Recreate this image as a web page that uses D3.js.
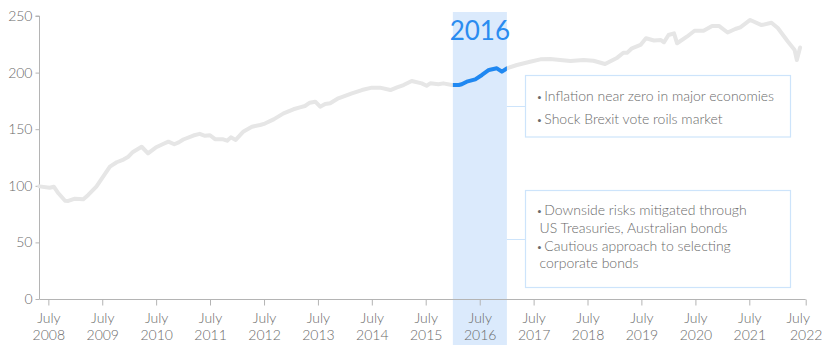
<!DOCTYPE html>
<html>
<head>
<meta charset="utf-8">
<script src="https://cdn.jsdelivr.net/npm/d3@7"></script>
<style>
  html, body { margin: 0; padding: 0; background: #fff; }
  svg { display: block; font-family: Lato, "Source Sans Pro", "Open Sans", sans-serif; font-weight: 300; }
</style>
</head>
<body>
<svg id="chart" width="832" height="360"></svg>
<script>
// ---------- DATA ----------
const dates = [
  "2008-05-01","2008-07-10","2008-08-07","2008-09-07","2008-10-22","2008-11-13","2008-12-28",
  "2009-02-23","2009-03-28","2009-05-22","2009-07-07","2009-08-22","2009-10-07","2009-11-22","2009-12-25",
  "2010-01-25","2010-03-25","2010-05-07","2010-06-28","2010-08-10","2010-09-22","2010-11-01","2010-12-01",
  "2011-01-01","2011-03-10","2011-04-22","2011-05-28","2011-07-01","2011-08-04","2011-09-28","2011-10-25","2011-11-19","2011-12-22",
  "2012-02-13","2012-04-10","2012-06-04","2012-07-07","2012-09-04","2012-11-10",
  "2013-01-16","2013-03-01","2013-04-04","2013-05-07","2013-06-13","2013-07-16","2013-08-19","2013-09-22","2013-11-16",
  "2014-02-16","2014-04-25","2014-07-01","2014-08-25","2014-11-04","2014-12-19",
  "2015-02-01","2015-03-28","2015-06-04","2015-07-07","2015-08-01","2015-09-25","2015-10-28","2015-12-25",
  "2016-02-10","2016-03-01","2016-04-04","2016-06-01","2016-07-16","2016-09-01","2016-10-25","2016-11-28",
  "2017-01-01","2017-03-10","2017-06-07","2017-08-16","2017-10-22","2017-12-28",
  "2018-03-07","2018-06-04","2018-08-10","2018-10-28",
  "2019-01-19","2019-03-01","2019-03-28","2019-04-28","2019-06-25","2019-08-01","2019-09-25","2019-11-10","2019-12-01",
  "2020-01-01","2020-02-07","2020-02-28","2020-05-04","2020-06-25","2020-08-25","2020-10-22","2020-12-07",
  "2021-02-04","2021-03-28","2021-05-01","2021-07-07","2021-09-22","2021-11-28",
  "2022-01-10","2022-03-19","2022-05-04","2022-05-19","2022-06-10"
];
const values = [
  99.5, 98.3, 99.2, 93.4, 86.8, 86.6, 88.6,
  88.1, 91.9, 99.2, 108, 116.9, 120.8, 123.2, 125.7,
  129.9, 134.5, 128.7, 133.8, 136.5, 139, 136.7, 138.4,
  140.9, 144.4, 145.9, 144.2, 144.7, 141.2, 141.1, 139.8, 142.8, 140.5,
  148, 152.2, 153.7, 155, 158.7, 164,
  167.6, 169.3, 170.5, 173.4, 174.3, 169.9, 172.3, 172.9, 177.3,
  181.7, 184.6, 186.7, 186.7, 184.6, 187,
  189, 192.6, 190.5, 188.4, 190.5, 189.7, 190.5, 189,
  189, 189.7, 192, 194, 197.9, 202.3, 203.8, 200.8,
  203.8, 206.7, 209.6, 211.7, 212, 211.1,
  210.2, 211.1, 210.5, 207.6,
  213.2, 217.6, 217.6, 221.5, 224.4, 230.3, 228.4, 228.8, 226.8,
  233.2, 234.7, 225.9, 231.7, 237, 237, 241.2, 241.2,
  235.4, 238.5, 240, 246.5, 242, 244,
  239.4, 227.5, 220, 211.1, 222.2
];
const yTicks = [0, 50, 100, 150, 200, 250];
const tickYears = [2008,2009,2010,2011,2012,2013,2014,2015,2016,2017,2018,2019,2020,2021,2022];
const tickMonthLabel = "July";
const highlightYear = 2016;
const notesTop = ["Inflation near zero in major economies", "Shock Brexit vote roils market"];
const notesBottom = [
  ["Downside risks mitigated through", "US Treasuries, Australian bonds"],
  ["Cautious approach to selecting", "corporate bonds"]
];

// ---------- LAYOUT ----------
const parse = d3.timeParse("%Y-%m-%d");
const data = dates.map((d, i) => ({ date: parse(d), value: values[i] }));

const svg = d3.select("#chart");
const x = d3.scaleTime()
  .domain([parse("2008-05-02"), parse("2022-07-18")])
  .range([39.5, 805.7]);
const y = d3.scaleLinear().domain([0, 250]).range([299, 16]);

const textColor = "#6a6a6a";
const axisColor = "#b4b4b4";

// highlight band
const hx0 = x(new Date(highlightYear, 0, 1));
const hx1 = x(new Date(highlightYear + 1, 0, 1));
svg.append("rect")
  .attr("x", hx0).attr("y", 12)
  .attr("width", hx1 - hx0).attr("height", 333)
  .attr("fill", "#dbeafc");
svg.append("text")
  .attr("x", (hx0 + hx1) / 2).attr("y", 39.5)
  .attr("text-anchor", "middle")
  .attr("font-size", 26)
  .attr("font-weight", 400)
  .attr("fill", "#2a8cf0")
  .text(highlightYear);

// axes
const yAxis = svg.append("g").attr("transform", "translate(39.5,0)")
  .call(d3.axisLeft(y).tickValues(yTicks).tickSize(4).tickPadding(3));
const lastTick = x.domain()[1];
const xTickDates = tickYears.map(yr => yr === tickYears[tickYears.length - 1] ? lastTick : new Date(yr, 6, 1));
const xAxis = svg.append("g").attr("transform", "translate(0,299.5)")
  .call(d3.axisBottom(x).tickValues(xTickDates).tickSize(6).tickFormat(() => ""));

[yAxis, xAxis].forEach(g => {
  g.attr("font-family", null).attr("font-size", null);
  g.select(".domain").attr("stroke", axisColor).attr("d", null);
  g.selectAll(".tick line").attr("stroke", axisColor);
  g.selectAll("text").attr("fill", textColor).attr("font-size", 14);
});
yAxis.select(".domain").attr("d", `M-4,${y(250)}H0V${y(0)}`);
xAxis.select(".domain").attr("d", `M${x.range()[0]},0H${x.range()[1]}`);

xAxis.selectAll(".tick").each(function(d, i) {
  const t = d3.select(this).append("text")
    .attr("fill", textColor).attr("font-size", 14)
    .attr("text-anchor", "middle")
    .attr("dx", i === tickYears.length - 1 ? -8 : 0);
  t.append("tspan").attr("x", 0).attr("y", 23).text(tickMonthLabel);
  t.append("tspan").attr("x", 0).attr("y", 40).text(tickYears[i]);
});

// line
const line = d3.line().x(d => x(d.date)).y(d => y(d.value)).curve(d3.curveLinear);
svg.append("path").datum(data)
  .attr("fill", "none").attr("stroke", "#e6e6e6")
  .attr("stroke-width", 4).attr("stroke-linejoin", "round").attr("stroke-linecap", "round")
  .attr("d", line);

svg.append("clipPath").attr("id", "hl")
  .append("rect").attr("x", hx0).attr("y", 0).attr("width", hx1 - hx0).attr("height", 360);
svg.append("path").datum(data)
  .attr("clip-path", "url(#hl)")
  .attr("fill", "none").attr("stroke", "#1f88f2")
  .attr("stroke-width", 4).attr("stroke-linejoin", "round")
  .attr("d", line);

// annotation boxes
function box(y0, y1, connY, lines) {
  const bx0 = 525.5, bx1 = 790.5;
  svg.append("line").attr("x1", hx1).attr("x2", bx0).attr("y1", connY).attr("y2", connY)
    .attr("stroke", "#cde4fb").attr("stroke-width", 1);
  svg.append("rect").attr("x", bx0).attr("y", y0).attr("width", bx1 - bx0).attr("height", y1 - y0)
    .attr("fill", "#fff").attr("stroke", "#cde4fb").attr("stroke-width", 1.2);
  const t = svg.append("text").attr("font-size", 14).attr("fill", textColor);
  lines.forEach(l => {
    const ts = t.append("tspan").attr("x", l.bullet ? 536.5 : 539.5).attr("y", l.y);
    if (l.bullet) { ts.append("tspan").attr("font-size", 10).text("\u2022"); ts.append("tspan").attr("dx", 2).text(l.text); }
    else ts.append("tspan").text(l.text);
  });
}
box(75.5, 137, 106.5, [
  { bullet: true, text: notesTop[0], y: 100.5 },
  { bullet: true, text: notesTop[1], y: 124 }
]);
const bl = [];
let yy = 215;
notesBottom.forEach(item => {
  item.forEach((s, j) => { bl.push({ bullet: j === 0, text: s, y: yy }); yy += 17.8; });
});
box(190.5, 287.5, 239.5, bl);
</script>
</body>
</html>
